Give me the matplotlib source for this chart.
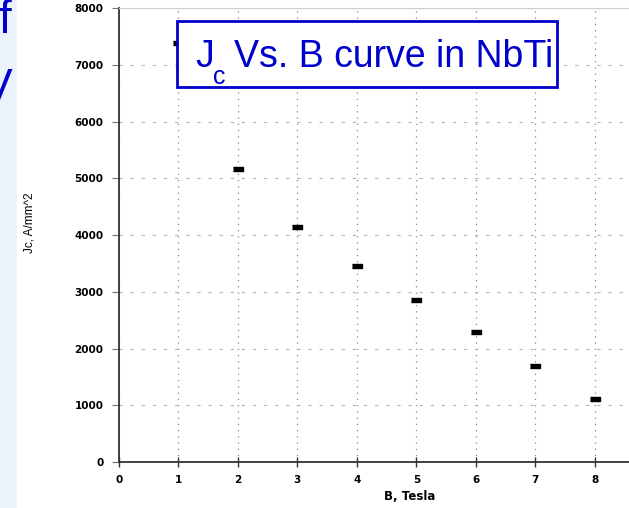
import matplotlib
matplotlib.use("Agg")
import matplotlib.pyplot as plt
from matplotlib.patches import Rectangle

# Critical current density of NbTi versus applied field
field_T = [1, 2, 3, 4, 5, 6, 7, 8]
jc_A_mm2 = [7390, 5160, 4145, 3455, 2855, 2290, 1690, 1105]

x_ticks = list(range(0, 9))
y_ticks = list(range(0, 8001, 1000))

W, H = 629, 508
fig = plt.figure(figsize=(W / 100, H / 100), dpi=100)
fig.patch.set_facecolor("white")

# pale slide strip on the far left with the cut-off slide heading
fig.patches.append(Rectangle((0, 0), 17 / W, 1, transform=fig.transFigure,
                             facecolor="#edf3fd", edgecolor="none", zorder=0))
fig.text(11 / W, 1 - 33 / H, "f", ha="right", va="baseline", color="#0000cc",
         fontsize=33, family="Liberation Sans")
fig.text(12 / W, 1 - 100 / H, "V", ha="right", va="baseline", color="#0000cc",
         fontsize=32, family="Liberation Sans")

left, right = 118.7, 629
top, bottom = 8.3, 462
ax = fig.add_axes([left / W, 1 - bottom / H, (right - left) / W, (bottom - top) / H])
ax.set_facecolor("white")

ax.plot(field_T, jc_A_mm2, linestyle="none", color="black",
        marker=[(-1, -0.55), (1, -0.55), (1, 0.55), (-1, 0.55)],
        markersize=6.5, zorder=3)

px_per_unit = 59.53
ax.set_xlim(0, (right - left) / px_per_unit)
ax.set_ylim(0, 8000)
ax.set_xticks(x_ticks)
ax.set_yticks(y_ticks)

ax.xaxis.grid(True, linestyle=(0, (1, 4)), color="#888888", linewidth=0.9)
ax.yaxis.grid(True, linestyle=(0, (3, 7)), color="#b5b5b5", linewidth=0.8)
ax.set_axisbelow(True)

for s in ("left", "bottom"):
    ax.spines[s].set_color("#333333")
    ax.spines[s].set_linewidth(1.3)
ax.spines["right"].set_visible(False)
ax.spines["top"].set_color("#cccccc")
ax.spines["top"].set_linewidth(0.8)

ax.tick_params(axis="y", direction="out", length=5, width=0.8, color="#777777",
               pad=6, labelsize=7.5)
ax.tick_params(axis="x", direction="inout", length=7, width=1.0, color="#333333",
               pad=6, labelsize=7.5)
for lab in ax.get_xticklabels() + ax.get_yticklabels():
    lab.set_fontweight("bold")
    lab.set_family("DejaVu Sans")

ax.set_xlabel("B, Tesla", fontsize=8.5, fontweight="bold", family="DejaVu Sans")
ax.xaxis.set_label_coords((410 - left) / (right - left), -(497 - bottom) / (bottom - top),
                          transform=ax.transAxes)
ax.xaxis.label.set_va("center")
ax.set_ylabel("Jc, A/mm^2", fontsize=8.5, family="Liberation Sans")
ax.yaxis.set_label_coords(-(left - 30) / (right - left), (bottom - 223) / (bottom - top),
                          transform=ax.transAxes)
ax.yaxis.label.set_va("center")

# boxed heading over the plot
bx0, bx1, by0, by1 = 176.7, 556.7, 20.7, 87.3
fig.patches.append(Rectangle((bx0 / W, 1 - by1 / H), (bx1 - bx0) / W, (by1 - by0) / H,
                             transform=fig.transFigure, facecolor="white",
                             edgecolor="#0000cc", linewidth=2.0, zorder=5))
head_kw = dict(va="baseline", ha="left", color="#0000cc", family="Liberation Sans", zorder=6)
fig.text(195 / W, 1 - 66.7 / H, "J", fontsize=27, **head_kw)
fig.text(213 / W, 1 - 84 / H, "c", fontsize=18, **head_kw)
fig.text(234 / W, 1 - 66.7 / H, "Vs. B curve in NbTi", fontsize=27, **head_kw)

fig.savefig("out.png", dpi=100, facecolor="white")
